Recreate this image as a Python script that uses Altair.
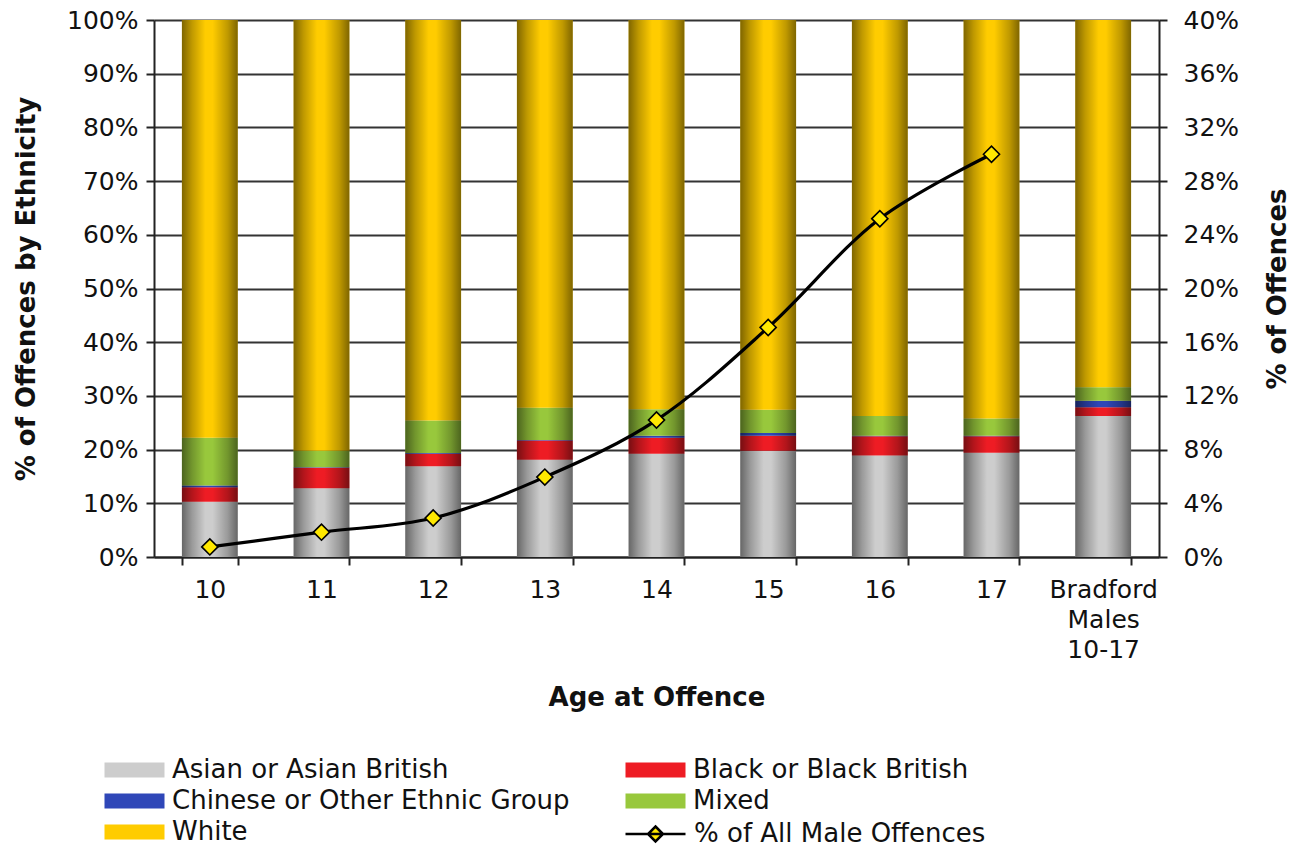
import altair as alt
import pandas as pd

categories = ["10", "11", "12", "13", "14", "15", "16", "17", "Bradford Males 10-17"]
ethnicities = ["Asian or Asian British", "Black or Black British",
               "Chinese or Other Ethnic Group", "Mixed", "White"]
asian   = [10.3, 12.8, 16.9, 18.1, 19.25, 19.8, 18.9, 19.4, 26.25]
black   = [2.7, 3.8, 2.35, 3.6, 2.95, 2.8, 3.6, 3.1, 1.65]
chinese = [0.3, 0.1, 0.1, 0.1, 0.4, 0.5, 0.1, 0.1, 1.2]
mixed   = [8.9, 3.1, 6.05, 6.0, 4.9, 4.3, 3.65, 3.2, 2.5]
white   = [77.8, 80.2, 74.6, 72.2, 72.5, 72.6, 73.75, 74.2, 68.4]
line_series = "% of All Male Offences"
line_cats = ["10", "11", "12", "13", "14", "15", "16", "17"]
line_pct = [0.75, 1.85, 2.9, 5.95, 10.2, 17.1, 25.2, 30.0]

bar_colors = ["#cdcdcd", "#ee1c24", "#2f47b8", "#98c83c", "#ffcc00"]

rows = []
for series_i, (eth, vals) in enumerate(zip(ethnicities, [asian, black, chinese, mixed, white])):
    for c, v in zip(categories, vals):
        rows.append({"cat": c, "eth": eth, "share": v / 100.0, "ord": series_i})
df = pd.DataFrame(rows)
df_line = pd.DataFrame({"cat": line_cats, "pct": [v / 100.0 for v in line_pct],
                        "series": [line_series] * len(line_cats)})

FONT = "DejaVu Sans"

x_enc = alt.X(
    "cat:N", sort=categories,
    scale=alt.Scale(paddingInner=0.5, paddingOuter=0.25),
    axis=alt.Axis(title="Age at Offence", labelAngle=0,
                  labelExpr="split(datum.label, ' ')", labelLineHeight=30,
                  tickBand="extent", tickSize=8, labelPadding=12,
                  titlePadding=22, grid=False),
)

left_axis = alt.Axis(format=".0%", values=[i / 10 for i in range(11)], grid=True,
                     gridColor="#333333", gridWidth=2, tickSize=8, labelPadding=8,
                     title="% of Offences by Ethnicity", titlePadding=27)
left_scale = alt.Scale(domain=[0, 1])

right_axis = alt.Axis(orient="right", format=".0%", values=[i * 0.04 for i in range(11)],
                      grid=False, tickSize=8, labelPadding=16,
                      title="% of Offences", titleAngle=270, titlePadding=52)
right_scale = alt.Scale(domain=[0, 0.4])

shade = alt.Gradient(
    gradient="linear", x1=0, x2=1, y1=0, y2=0,
    stops=[
        alt.GradientStop(color="rgba(0,0,0,0.50)", offset=0),
        alt.GradientStop(color="rgba(0,0,0,0.25)", offset=0.18),
        alt.GradientStop(color="rgba(0,0,0,0.0)", offset=0.42),
        alt.GradientStop(color="rgba(0,0,0,0.0)", offset=0.55),
        alt.GradientStop(color="rgba(0,0,0,0.25)", offset=0.82),
        alt.GradientStop(color="rgba(0,0,0,0.50)", offset=1),
    ],
)

bars = alt.Chart(df).mark_bar().encode(
    x=x_enc,
    y=alt.Y("share:Q", stack="zero", scale=left_scale, axis=left_axis),
    color=alt.Color(
        "eth:N", scale=alt.Scale(domain=ethnicities, range=bar_colors),
        legend=alt.Legend(title=None, orient="none", legendX=-32.5, legendY=737,
                          direction="horizontal", columns=2, columnPadding=55,
                          rowPadding=5,
                          symbolType="M-2.4,-0.6H2.4V0.6H-2.4Z", symbolSize=625,
                          symbolStrokeWidth=0, labelFontSize=26, labelFont=FONT,
                          labelColor="#111111", labelOffset=24.5, labelLimit=0),
    ),
    order=alt.Order("ord:Q"),
)

overlay = alt.Chart(df).mark_bar(color=shade).encode(
    x=x_enc,
    y=alt.Y("sum(share):Q", scale=left_scale, axis=left_axis),
)

line = alt.Chart(df_line).mark_line(color="black", strokeWidth=3.2, interpolate="catmull-rom").encode(
    x=x_enc,
    y=alt.Y("pct:Q", scale=right_scale, axis=right_axis),
)

points = alt.Chart(df_line).mark_point(
    shape="diamond", filled=True, fill="#ffe800", strokeWidth=1.6, size=260, opacity=1
).encode(
    x=x_enc,
    y=alt.Y("pct:Q", scale=right_scale, axis=right_axis),
    stroke=alt.Stroke(
        "series:N", scale=alt.Scale(domain=[line_series], range=["black"]),
        legend=alt.Legend(title=None, orient="none", legendX=487.5, legendY=800,
                          symbolType="M-2.4,0H2.4M0,-0.6L0.6,0L0,0.6L-0.6,0Z",
                          symbolSize=625, symbolStrokeWidth=2.5,
                          symbolFillColor="#ffe800", labelFontSize=26, labelFont=FONT,
                          labelColor="#111111", labelOffset=24.5, labelLimit=0),
    ),
)

chart = alt.layer(
    alt.layer(bars, overlay),
    alt.layer(line, points),
).resolve_scale(y="independent").properties(
    width=1005, height=537,
    padding={"left": 13, "top": 8, "right": 5, "bottom": 5},
).configure_view(stroke=None).configure_axis(
    labelFont=FONT, titleFont=FONT, labelFontSize=25, titleFontSize=26,
    labelColor="#111111", titleColor="#111111", domainColor="#222222",
    tickColor="#222222", domainWidth=2, tickWidth=2, titleFontWeight="bold",
)

chart.save("out.html", embed_options={"renderer": "svg", "actions": False})
